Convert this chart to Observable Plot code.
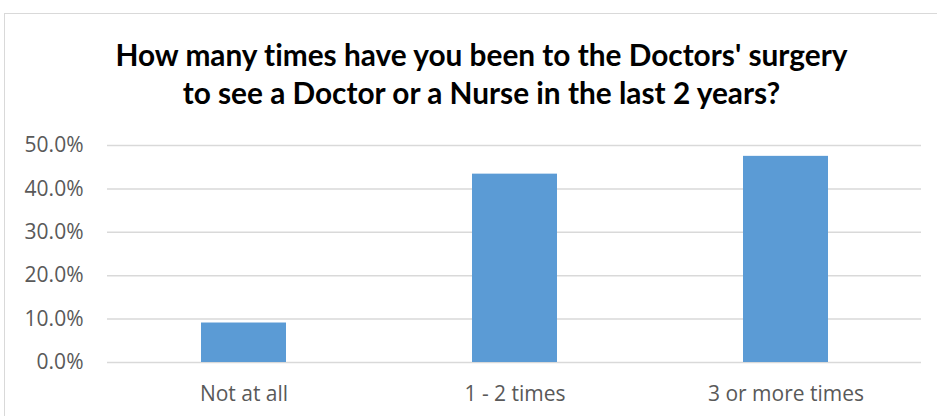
<!DOCTYPE html>
<html>
<head>
<meta charset="utf-8">
<script src="https://cdn.jsdelivr.net/npm/d3@7"></script>
<script src="https://cdn.jsdelivr.net/npm/@observablehq/plot@0.6"></script>
<style>
  html, body { margin: 0; padding: 0; background: #fff; width: 937px; height: 416px; overflow: hidden; }
  #frame { position: absolute; left: 4px; top: 13px; width: 945px; height: 420px; border: 1.5px solid #d9d9d9; box-sizing: border-box; }
  #title { position: absolute; left: 0; top: 0; width: 937px; height: 125px; text-align: center;
           font-family: Lato, "Open Sans", sans-serif; font-weight: 700; font-size: 29.8px; line-height: 38px; color: #000;
           font-variant-ligatures: none; }
  #title .l1 { position: absolute; top: 36px; left: 13px; width: 100%; }
  #title .l2 { position: absolute; top: 74px; left: 13px; width: 100%; }
  #chart { position: absolute; left: 0; top: 125px; }
</style>
</head>
<body>
<div id="frame"></div>
<div id="title"><div class="l1">How many times have you been to the Doctors' surgery</div><div class="l2">to see a Doctor or a Nurse in the last 2 years?</div></div>
<div id="chart"></div>
<script>
const categories = ["Not at all", "1 - 2 times", "3 or more times"];
const values = [0.091, 0.434, 0.475];
const yTicks = [0, 0.1, 0.2, 0.3, 0.4, 0.5];

const data = categories.map((c, i) => ({category: c, value: values[i]}));

const chart = Plot.plot({
  width: 937,
  height: 291,
  marginLeft: 107,
  marginRight: 16,
  marginTop: 20,
  marginBottom: 54,
  style: {fontFamily: "'Open Sans', sans-serif", fontSize: "21px", color: "#595959", background: "transparent"},
  x: {domain: categories, padding: 0, label: null},
  y: {domain: [0, 0.5], label: null},
  marks: [
    Plot.gridY(yTicks, {stroke: "#d9d9d9", strokeOpacity: 1, strokeWidth: 1.5}),
    Plot.barY(data, {x: "category", y: "value", fill: "#5b9bd5", insetLeft: 93, insetRight: 93}),
    Plot.axisY(yTicks, {tickSize: 0, tickPadding: 24, tickFormat: d3.format(".1%"), fill: "#595959", fontSize: 21}),
    Plot.axisX({tickSize: 0, tickPadding: 24, fill: "#595959", fontSize: 21})
  ]
});
document.getElementById("chart").appendChild(chart);
</script>
</body>
</html>
